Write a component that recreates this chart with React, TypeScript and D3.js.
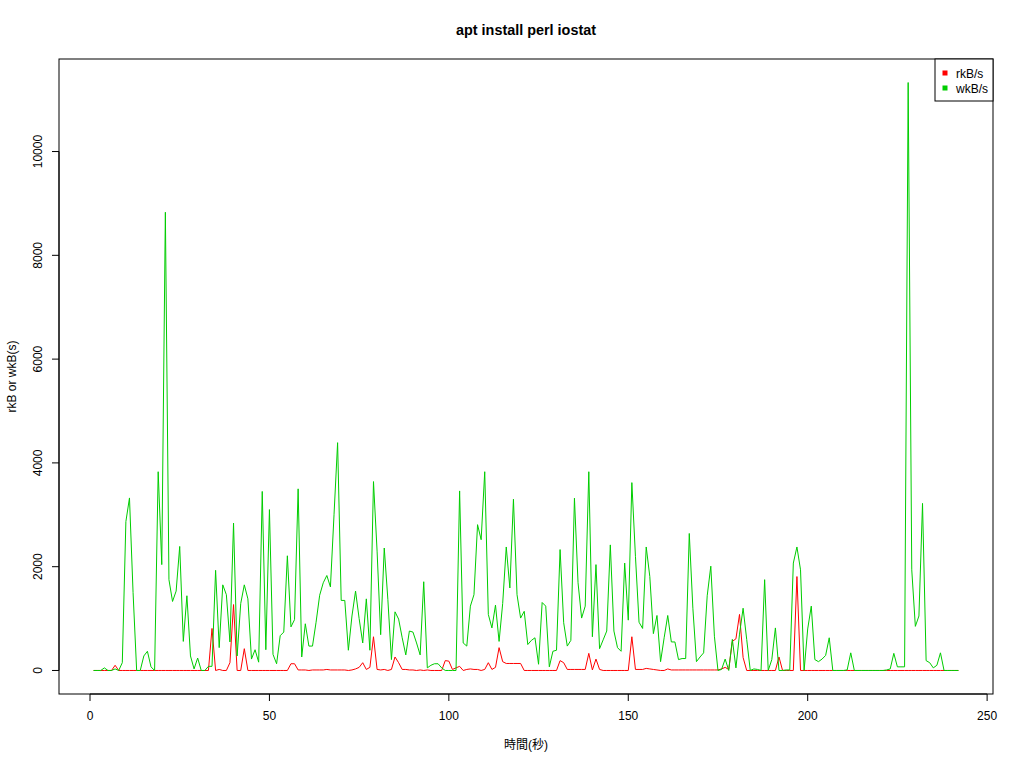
import * as d3 from "d3";

// iostat samples, one per second (1..242)
const rkBs: number[] = [
  0, 0, 0, 0, 0, 0, 100, 0, 0, 0,
  0, 0, 0, 0, 0, 0, 0, 0, 0, 0,
  0, 0, 0, 0, 0, 0, 0, 0, 0, 0,
  0, 0, 0, 810, 0, 20, 0, 0, 150, 1270,
  0, 0, 420, 0, 0, 0, 0, 0, 0, 0,
  0, 0, 0, 0, 0, 130, 130, 10, 10, 10,
  0, 10, 10, 10, 10, 20, 10, 10, 10, 10,
  10, 0, 10, 30, 60, 150, 20, 60, 650, 20,
  10, 20, 0, 20, 260, 150, 20, 20, 10, 10,
  0, 10, 0, 10, 0, 0, 0, 0, 190, 180,
  20, 50, 80, 0, 20, 30, 20, 20, 0, 20,
  150, 20, 60, 440, 170, 135, 135, 135, 135, 135,
  0, 0, 0, 0, 0, 0, 0, 0, 0, 0,
  190, 150, 20, 20, 20, 20, 20, 20, 330, 10,
  220, 20, 0, 0, 0, 0, 0, 0, 0, 0,
  650, 20, 20, 20, 40, 30, 20, 10, 0, 0,
  30, 10, 10, 10, 10, 10, 10, 10, 10, 10,
  10, 10, 10, 10, 10, 30, 60, 20, 560, 610,
  1080, 250, 0, 0, 0, 0, 0, 0, 0, 0,
  0, 260, 0, 0, 0, 0, 1810, 0, 0, 0,
  0, 0, 0, 0, 0, 0, 0, 0, 0, 0,
  0, 0, 0, 0, 0, 0, 0, 0, 0, 0,
  0, 0, 0, 0, 0, 0, 0, 0, 0, 0,
  0, 0, 0, 0, 0, 0, 0, 0, 0, 0,
  0, 0,
];

const wkBs: number[] = [
  0, 0, 0, 50, 0, 0, 30, 0, 150, 2870,
  3325, 1500, 0, 0, 280, 370, 70, 0, 3830, 2040,
  8830, 1750, 1330, 1530, 2390, 560, 1440, 280, 30, 240,
  0, 0, 80, 80, 1930, 440, 1650, 1460, 550, 2840,
  280, 1290, 1650, 1380, 220, 400, 160, 3450, 400, 3100,
  310, 130, 670, 740, 2210, 840, 980, 3500, 260, 900,
  470, 470, 930, 1450, 1690, 1830, 1610, 3000, 4390, 1350,
  1350, 390, 1050, 1530, 1000, 530, 1380, 390, 3640, 2300,
  690, 2360, 1370, 210, 1130, 990, 630, 300, 760, 740,
  530, 300, 1710, 50, 100, 130, 130, 50, 0, 0,
  0, 0, 3460, 530, 470, 1240, 1460, 2810, 2520, 3830,
  1080, 820, 1260, 560, 1290, 2380, 1590, 3300, 1460, 1010,
  1140, 500, 580, 630, 120, 1310, 1240, 70, 370, 390,
  2330, 920, 470, 580, 3320, 1690, 1010, 1240, 3830, 650,
  2040, 420, 590, 760, 2420, 760, 440, 370, 2070, 970,
  3620, 2200, 930, 810, 2380, 1810, 710, 1060, 170, 630,
  1060, 550, 550, 210, 230, 230, 2640, 1200, 170, 260,
  340, 1440, 2010, 660, 0, 20, 220, 0, 600, 50,
  700, 1200, 600, 0, 30, 20, 0, 1750, 0, 210,
  820, 0, 0, 10, 10, 2070, 2380, 1940, 0, 800,
  1240, 210, 170, 220, 290, 630, 0, 0, 0, 0,
  10, 340, 0, 0, 0, 0, 0, 0, 0, 0,
  0, 10, 30, 330, 70, 70, 70, 11330, 1940, 850,
  1050, 3220, 190, 150, 50, 100, 340, 0, 0, 0,
  0, 0,
];

const seconds = wkBs.map((_, i) => i + 1);
const xTicks = [0, 50, 100, 150, 200, 250];
const yTicks = [0, 2000, 4000, 6000, 8000, 10000];
const seriesNames = ["rkB/s", "wkB/s"];
const seriesColors = ["#ff0000", "#00cd00"];

const W = 1024;
const H = 768;
const left = 59;
const right = 993;
const top = 59;
const bottom = 694;
const font = "'Liberation Sans', Arial, Helvetica, 'Noto Sans CJK JP', sans-serif";

export default function App() {
  // R-style 4% padding on both axes
  const xr = d3.extent(seconds) as [number, number];
  const xpad = (xr[1] - xr[0]) * 0.04;
  const x = d3.scaleLinear().domain([xr[0] - xpad, xr[1] + xpad]).range([left, right]);
  const ymax = d3.max([...rkBs, ...wkBs]) as number;
  const ypad = ymax * 0.04;
  const y = d3.scaleLinear().domain([-ypad, ymax + ypad]).range([bottom, top]);

  const line = d3
    .line<number>()
    .x((_, i) => x(seconds[i]))
    .y((d) => y(d));

  const series = [rkBs, wkBs];

  return (
    <svg width={W} height={H} style={{ position: "absolute", left: 0, top: 0, background: "#fff" }} fontFamily={font}>
      <rect x={0} y={0} width={W} height={H} fill="#fff" />
      <text x={(left + right) / 2} y={35} textAnchor="middle" fontSize={14.4} fontWeight="bold">
        apt install perl iostat
      </text>

      {series.map((s, k) => (
        <path key={k} d={line(s) ?? ""} fill="none" stroke={seriesColors[k]} strokeWidth={1} />
      ))}

      <rect x={left} y={top} width={right - left} height={bottom - top} fill="none" stroke="#000" strokeWidth={1} />

      {/* x axis */}
      <line x1={x(xTicks[0])} x2={x(xTicks[xTicks.length - 1])} y1={bottom} y2={bottom} stroke="#000" />
      {xTicks.map((t) => (
        <g key={t}>
          <line x1={x(t)} x2={x(t)} y1={bottom} y2={bottom + 7} stroke="#000" />
          <text x={x(t)} y={bottom + 26} textAnchor="middle" fontSize={12}>
            {t}
          </text>
        </g>
      ))}

      {/* y axis */}
      <line x1={left} x2={left} y1={y(yTicks[0])} y2={y(yTicks[yTicks.length - 1])} stroke="#000" />
      {yTicks.map((t) => (
        <g key={t}>
          <line x1={left - 7} x2={left} y1={y(t)} y2={y(t)} stroke="#000" />
          <text
            transform={`translate(${left - 17},${y(t)}) rotate(-90)`}
            textAnchor="middle"
            fontSize={12}
          >
            {t}
          </text>
        </g>
      ))}

      <text x={(left + right) / 2} y={749} textAnchor="middle" fontSize={12}>
        時間(秒)
      </text>
      <text transform={`translate(16,${(top + bottom) / 2}) rotate(-90)`} textAnchor="middle" fontSize={12}>
        rkB or wkB(s)
      </text>

      {/* legend */}
      <rect x={935} y={top} width={right - 935} height={42} fill="#fff" stroke="#000" />
      {seriesNames.map((n, k) => (
        <g key={n}>
          <rect x={942.5} y={70.5 + k * 15} width={5} height={5} fill={seriesColors[k]} />
          <text x={956} y={77.5 + k * 15} fontSize={12}>
            {n}
          </text>
        </g>
      ))}
    </svg>
  );
}
